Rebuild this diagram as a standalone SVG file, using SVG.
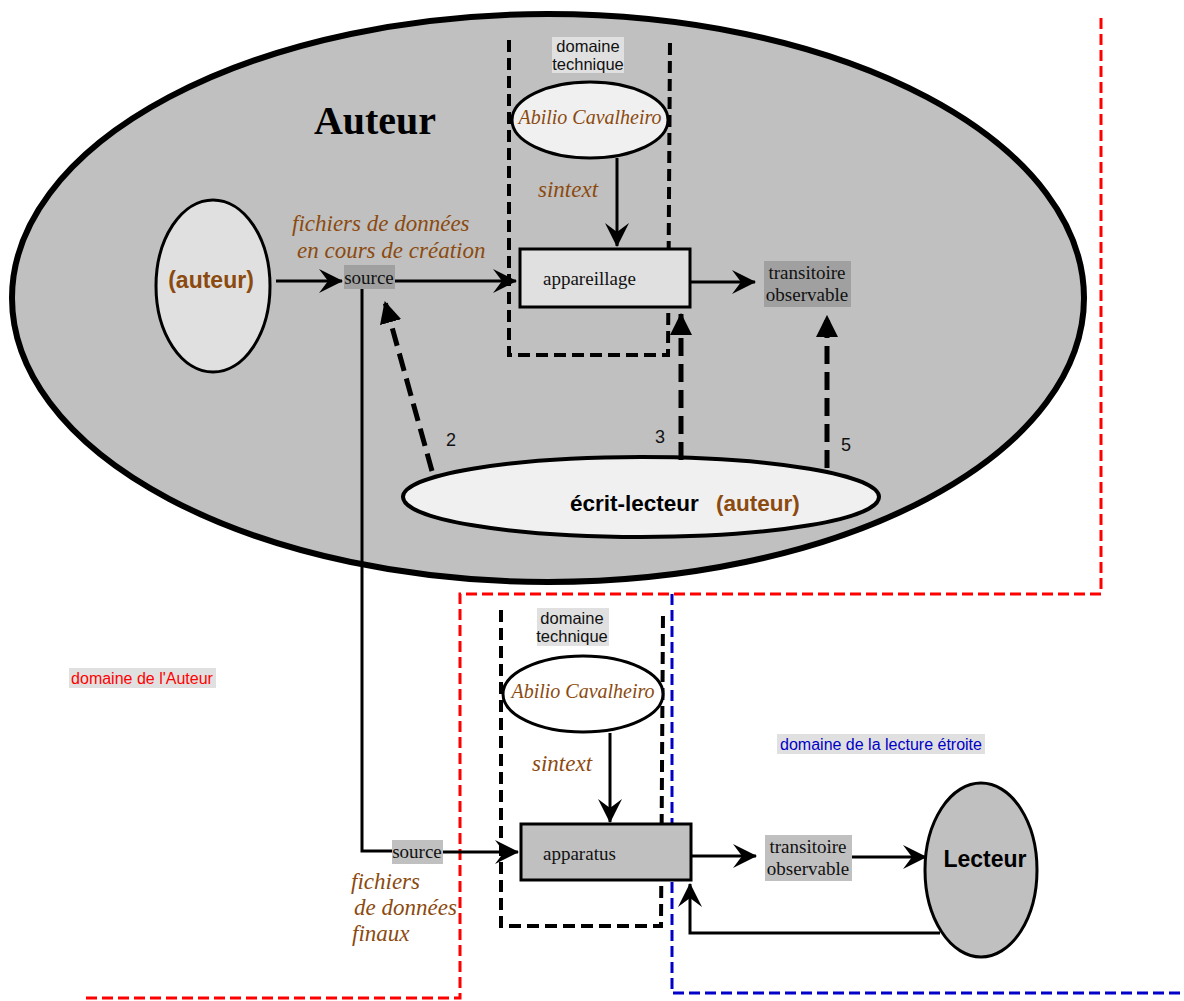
<svg xmlns="http://www.w3.org/2000/svg" width="1184" height="1001" viewBox="0 0 1184 1001">
  <defs>
    <marker id="barb" viewBox="0 0 24 24" refX="23" refY="12" markerWidth="24" markerHeight="24" markerUnits="userSpaceOnUse" orient="auto">
      <path d="M0,0 L24,12 L0,24 L9,12 Z" fill="#000"/>
    </marker>
    <marker id="tri" viewBox="0 0 20 20" refX="19" refY="10" markerWidth="22" markerHeight="22" markerUnits="userSpaceOnUse" orient="auto">
      <path d="M0,0 L20,10 L0,20 Z" fill="#000"/>
    </marker>
    <style>
      .line { fill: none; stroke: #000; stroke-width: 3; }
      .dash { fill: none; stroke: #000; stroke-width: 5; stroke-dasharray: 18 8; }
      .tech { fill: none; stroke: #000; stroke-width: 4; stroke-dasharray: 12 6; }
      .sans { font-family: "Liberation Sans", Arial, sans-serif; }
      .serif { font-family: "Liberation Serif", "Times New Roman", serif; }
      .brown { fill: #8b4a0f; }
      .it { font-family: "Liberation Serif", "Times New Roman", serif; font-style: italic; fill: #8b4a0f; }
      .lbl { font-family: "Liberation Serif", "Times New Roman", serif; font-size: 19px; fill: #111; }
      .small { font-family: "Liberation Sans", Arial, sans-serif; font-size: 16.5px; fill: #111; }
      .num { font-family: "Liberation Sans", Arial, sans-serif; font-size: 18px; fill: #111; }
    </style>
  </defs>

  <rect width="1184" height="1001" fill="#fff"/>

  <!-- Auteur domain -->
  <g id="auteur-domain">
    <ellipse cx="548" cy="298" rx="536" ry="284" fill="#c0c0c0" stroke="#000" stroke-width="6"/>
    <text x="375" y="134" text-anchor="middle" class="serif" font-size="40" font-weight="bold" fill="#000">Auteur</text>
  </g>

  <!-- boundary lines -->
  <g id="boundaries">
    <path d="M1101,18 V594 H460 V998 H82" fill="none" stroke="#ff0000" stroke-width="3" stroke-dasharray="11 5"/>
    <path d="M672,594 V993 H1184" fill="none" stroke="#0000c8" stroke-width="3" stroke-dasharray="11 5"/>
    <rect x="69" y="668" width="147" height="20" fill="#e0e0e0"/>
    <text x="142" y="684" text-anchor="middle" class="sans" font-size="16" fill="#ff0000">domaine de l'Auteur</text>
    <rect x="777" y="734" width="208" height="20" fill="#e0e0e0"/>
    <text x="881" y="750" text-anchor="middle" class="sans" font-size="16" fill="#0000c8">domaine de la lecture étroite</text>
  </g>

  <!-- upper technical domain -->
  <g id="tech-top">
    <path class="tech" d="M509,40 V355 H668 L670,40"/>
    <rect x="552" y="37" width="72" height="36" fill="#e0e0e0"/>
    <text x="588" y="52" text-anchor="middle" class="small">domaine</text>
    <text x="588" y="70" text-anchor="middle" class="small">technique</text>
  </g>

  <g id="abilio-top">
    <ellipse cx="590" cy="120" rx="78" ry="38" fill="#f0f0f0" stroke="#000" stroke-width="3"/>
    <text x="590" y="124" text-anchor="middle" class="it" font-size="20">Abilio Cavalheiro</text>
  </g>

  <g id="auteur-node">
    <ellipse cx="213" cy="286" rx="57" ry="86" fill="#e0e0e0" stroke="#000" stroke-width="3"/>
    <text x="211" y="288" text-anchor="middle" class="sans brown" font-size="23" font-weight="bold">(auteur)</text>
  </g>

  <g id="source-top">
    <rect x="344" y="265" width="51" height="24" fill="#a0a0a0"/>
    <text x="369" y="284" text-anchor="middle" class="lbl" font-size="18">source</text>
  </g>

  <g id="appareillage">
    <rect x="520" y="249" width="170" height="58" fill="#e0e0e0" stroke="#000" stroke-width="3"/>
    <text x="543" y="285" class="lbl">appareillage</text>
  </g>

  <g id="transitoire-top">
    <rect x="764" y="261" width="87" height="46" fill="#a0a0a0"/>
    <text x="807" y="279" text-anchor="middle" class="lbl">transitoire</text>
    <text x="807" y="301" text-anchor="middle" class="lbl">observable</text>
  </g>

  <g id="ecrit-lecteur">
    <ellipse cx="641" cy="497" rx="238" ry="40" fill="#f0f0f0" stroke="#000" stroke-width="4"/>
    <text x="570" y="511" class="sans" font-size="22.5" font-weight="bold" fill="#000">écrit-lecteur</text>
    <text x="716" y="511" class="sans brown" font-size="22.5" font-weight="bold">(auteur)</text>
  </g>

  <!-- lower technical domain -->
  <g id="tech-bottom">
    <path class="tech" d="M501,610 V926 H661 L663,611"/>
    <rect x="537" y="608" width="72" height="38" fill="#e0e0e0"/>
    <text x="572" y="624" text-anchor="middle" class="small">domaine</text>
    <text x="572" y="642" text-anchor="middle" class="small">technique</text>
  </g>

  <g id="abilio-bottom">
    <ellipse cx="583" cy="694" rx="80" ry="38" fill="#fff" stroke="#000" stroke-width="3"/>
    <text x="583" y="698" text-anchor="middle" class="it" font-size="20">Abilio Cavalheiro</text>
  </g>

  <g id="apparatus">
    <rect x="521" y="824" width="170" height="56" fill="#c0c0c0" stroke="#000" stroke-width="3"/>
    <text x="543" y="860" class="lbl">apparatus</text>
  </g>

  <g id="source-bottom">
    <rect x="392" y="840" width="51" height="24" fill="#c0c0c0"/>
    <text x="417" y="858" text-anchor="middle" class="lbl" font-size="18">source</text>
  </g>

  <g id="transitoire-bottom">
    <rect x="765" y="835" width="87" height="46" fill="#c0c0c0"/>
    <text x="808" y="853" text-anchor="middle" class="lbl">transitoire</text>
    <text x="808" y="875" text-anchor="middle" class="lbl">observable</text>
  </g>

  <g id="lecteur">
    <ellipse cx="981" cy="870" rx="56" ry="87" fill="#c0c0c0" stroke="#000" stroke-width="3"/>
    <text x="985" y="867" text-anchor="middle" class="sans" font-size="23" font-weight="bold" fill="#000">Lecteur</text>
  </g>

  <!-- connectors -->
  <g id="connectors">
    <path class="line" d="M276,281 H342" marker-end="url(#barb)"/>
    <path class="line" d="M395,281 H516" marker-end="url(#barb)"/>
    <path class="line" d="M617,158 V246" marker-end="url(#barb)"/>
    <path class="line" d="M690,282 H755" marker-end="url(#barb)"/>
    <path class="dash" d="M432,471 L385,302" marker-end="url(#tri)"/>
    <path class="dash" d="M681,460 V314" marker-end="url(#tri)"/>
    <path class="dash" d="M827,468 V316" marker-end="url(#tri)"/>
    <path class="line" d="M362,289 V851 H392"/>
    <path class="line" d="M443,852 H518" marker-end="url(#barb)"/>
    <path class="line" d="M610,733 V822" marker-end="url(#barb)"/>
    <path class="line" d="M691,856 H756" marker-end="url(#barb)"/>
    <path class="line" d="M852,857 H926" marker-end="url(#barb)"/>
    <path class="line" d="M940,933 H690 V884" marker-end="url(#barb)"/>
  </g>

  <!-- connector labels -->
  <g id="labels">
    <text x="292" y="231" class="it" font-size="23">fichiers de données</text>
    <text x="297" y="258" class="it" font-size="23">en cours de création</text>
    <text x="538" y="197" class="it" font-size="23">sintext</text>
    <text x="532" y="771" class="it" font-size="23">sintext</text>
    <text x="351" y="889" class="it" font-size="23">fichiers</text>
    <text x="354" y="915" class="it" font-size="23">de données</text>
    <text x="352" y="941" class="it" font-size="23">finaux</text>
    <text x="446" y="446" class="num">2</text>
    <text x="655" y="443" class="num">3</text>
    <text x="841" y="451" class="num">5</text>
  </g>
</svg>
